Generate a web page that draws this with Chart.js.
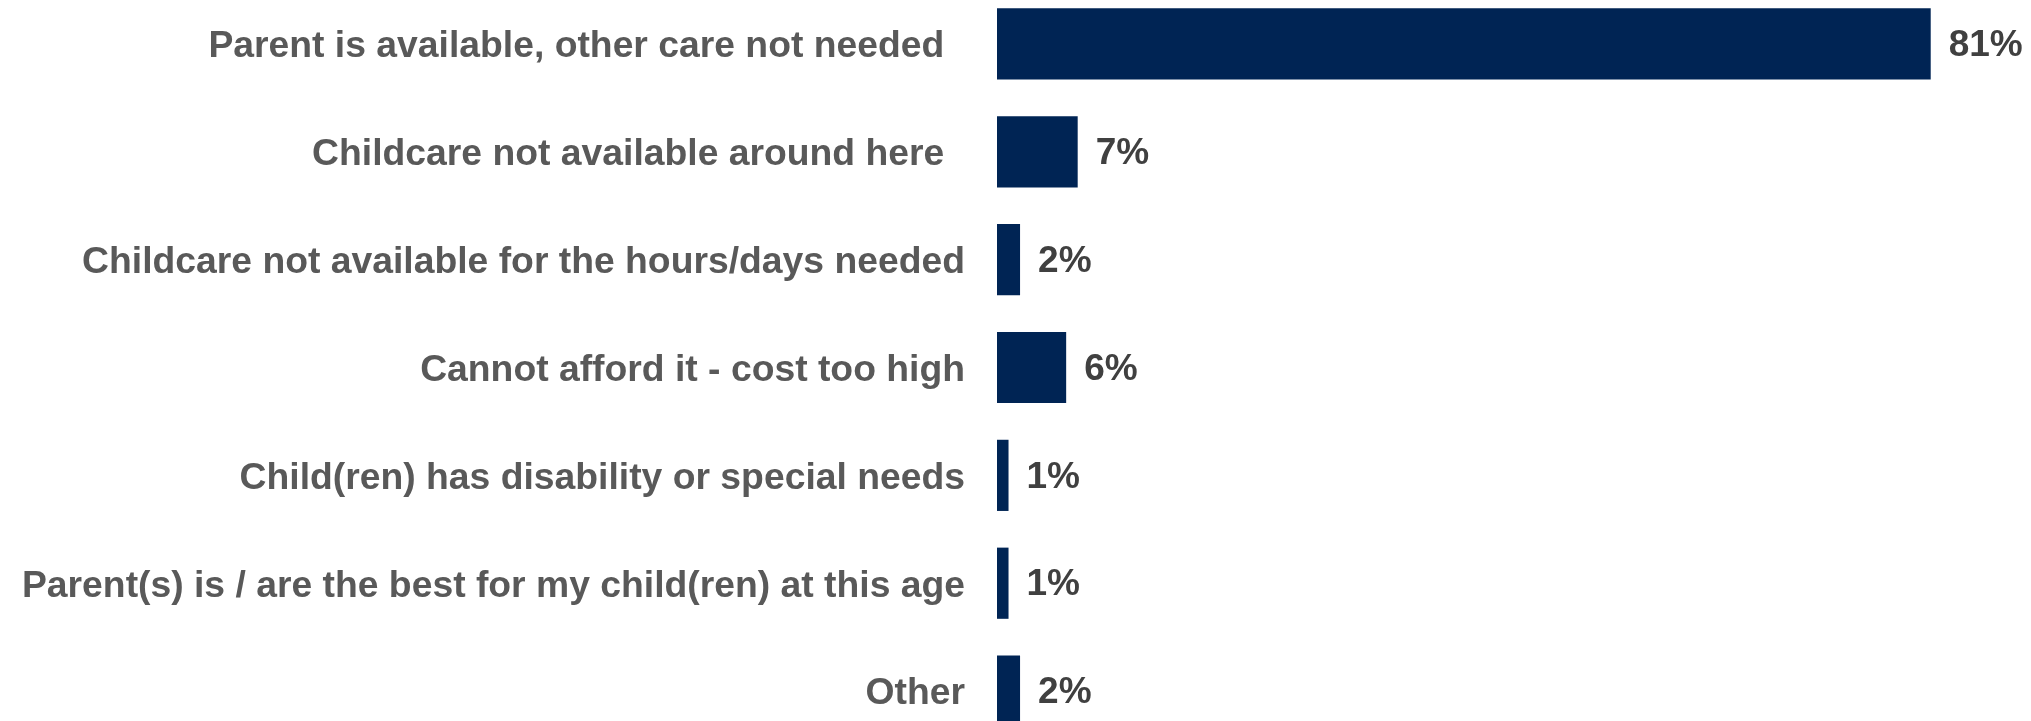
<!DOCTYPE html>
<html>
<head>
<meta charset="utf-8">
<script src="https://cdn.jsdelivr.net/npm/chart.js@4/dist/chart.umd.min.js"></script>
<style>
    html, body { margin: 0; padding: 0; background: #ffffff; overflow: hidden; }
    body { width: 2031px; height: 721px; position: relative; }
    #wrap { position: absolute; left: 0; top: -10px; width: 2031px; height: 755px; }
</style>
</head>
<body>
<div id="wrap"><canvas id="reasons" width="2031" height="755"></canvas></div>
<script>
// reasons for not using childcare, share of parents (%)
const reasons = [
    'Parent is available, other care not needed  ',
    'Childcare not available around here  ',
    'Childcare not available for the hours/days needed',
    'Cannot afford it - cost too high',
    'Child(ren) has disability or special needs',
    'Parent(s) is / are the best for my child(ren) at this age',
    'Other'
];
const shares = [81, 7, 2, 6, 1, 1, 2];

const FONT = '"Liberation Sans", Arial, sans-serif';

// no datalabels plugin offline, so draw the % next to each bar
const valueLabels = {
    id: 'valueLabels',
    afterDatasetsDraw(chart) {
        const ctx = chart.ctx;
        const meta = chart.getDatasetMeta(0);
        ctx.save();
        ctx.font = 'bold 37px ' + FONT;
        ctx.fillStyle = '#404040';
        ctx.textAlign = 'left';
        ctx.textBaseline = 'middle';
        meta.data.forEach((bar, i) => {
            ctx.fillText(shares[i] + '%', bar.x + 18, bar.y + 2);
        });
        ctx.restore();
    }
};

new Chart(document.getElementById('reasons').getContext('2d'), {
    type: 'bar',
    data: {
        labels: reasons,
        datasets: [{
            label: 'Reason',
            data: shares,
            backgroundColor: '#002454',
            borderWidth: 0,
            barPercentage: 0.66,
            categoryPercentage: 1
        }]
    },
    options: {
        indexAxis: 'y',
        responsive: false,
        animation: false,
        devicePixelRatio: 1,
        layout: { padding: 0 },
        plugins: {
            legend: { display: false },
            tooltip: { enabled: false }
        },
        scales: {
            x: {
                display: false,
                min: 0,
                max: 89.7
            },
            y: {
                grid: { display: false, drawTicks: false },
                border: { display: false },
                ticks: {
                    color: '#595959',
                    padding: 32,
                    labelOffset: 3,
                    font: { family: FONT, size: 37.3, weight: 'bold' }
                },
                afterFit: function(scale) {
                    // fixed label column, and no extra top/bottom padding from tick labels
                    scale.width = 997;
                    scale.paddingTop = 0;
                    scale.paddingBottom = 0;
                }
            }
        }
    },
    plugins: [valueLabels]
});
</script>
</body>
</html>
